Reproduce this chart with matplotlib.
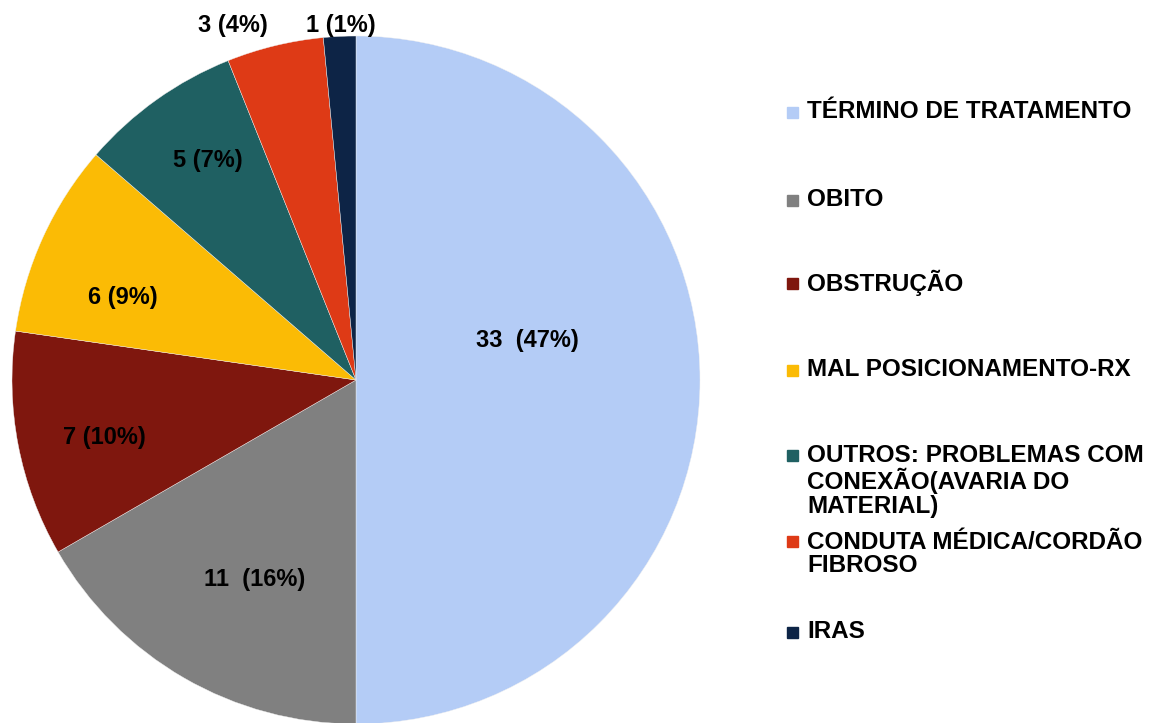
import matplotlib.pyplot as plt
import numpy as np

plt.rcParams['font.family'] = ['Liberation Sans', 'DejaVu Sans']

categories = [
    'TÉRMINO DE TRATAMENTO',
    'OBITO',
    'OBSTRUÇÃO',
    'MAL POSICIONAMENTO-RX',
    'OUTROS: PROBLEMAS COM\nCONEXÃO(AVARIA DO\nMATERIAL)',
    'CONDUTA MÉDICA/CORDÃO\nFIBROSO',
    'IRAS',
]
counts = [33, 11, 7, 6, 5, 3, 1]
percents = [47, 16, 10, 9, 7, 4, 1]
labels = ['33  (47%)', '11  (16%)', '7 (10%)', '6 (9%)', '5 (7%)', '3 (4%)', '1 (1%)']

colors = ['#B4CCF6', '#808080', '#7F170E', '#FBBB05', '#1F6062', '#DE3A16', '#0D2446']

W, H = 1156, 723
fig = plt.figure(figsize=(W / 100, H / 100), dpi=100)

# pie centre and radius in pixels
cx, cy, r = 356, 380, 344
ax = fig.add_axes([(cx - r) / W, (H - cy - r) / H, 2 * r / W, 2 * r / H])

wedges, _ = ax.pie(counts, colors=colors, startangle=90, counterclock=False,
                   wedgeprops=dict(linewidth=0.3, edgecolor='#f0f0f0'))
ax.set_xlim(-1, 1)
ax.set_ylim(-1, 1)

# label distance from centre and angle nudge per slice
dist = [0.51, 0.65, 0.75, 0.72, 0.77, 1.09, 1.03]
nudge = [13, 3, 2, 5, -1.5, 5.5, -0.3]
for w, lab, d, n in zip(wedges, labels, dist, nudge):
    ang = np.deg2rad((w.theta1 + w.theta2) / 2 + n)
    ax.text(d * np.cos(ang), d * np.sin(ang), lab, ha='center', va='center',
            fontsize=17, fontweight='bold', color='black', clip_on=False)

# legend drawn by hand, entries at the reference positions
leg_y = [112, 200, 283, 370, 481, 554, 632]
for lab, c, y in zip(categories, colors, leg_y):
    nlines = lab.count('\n') + 1
    top = y - (nlines - 1) * 13
    fig.patches.append(plt.Rectangle((787 / W, (H - top - 5.5) / H), 11 / W, 11 / H,
                                     transform=fig.transFigure, color=c))
    fig.text(807 / W, (H - y) / H, lab, ha='left', va='center', fontsize=17.5,
             fontweight='bold', linespacing=1.05)

fig.savefig('out.png', dpi=100)
